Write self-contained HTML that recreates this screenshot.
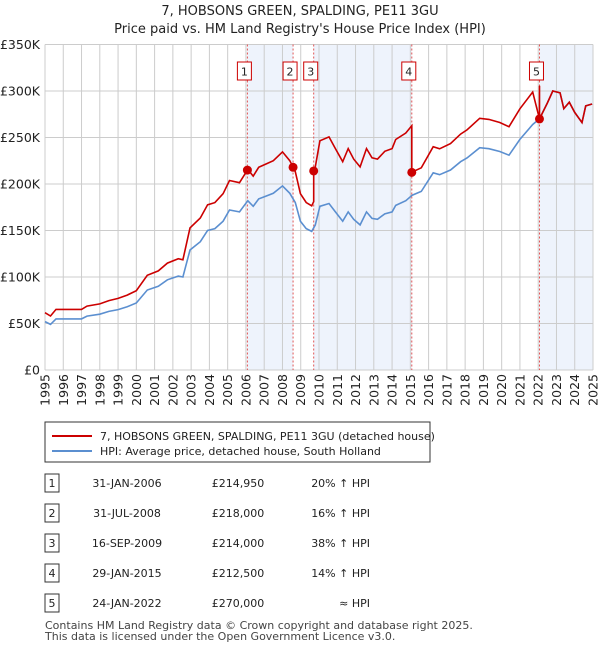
<!DOCTYPE html>
<html><head><meta charset="utf-8">
<style>
body{margin:0;background:#fff;font-family:"Liberation Sans","DejaVu Sans",sans-serif;}
svg text{font-family:"DejaVu Sans","Liberation Sans",sans-serif;}
</style></head>
<body>
<svg id="chart" width="600" height="650" xmlns="http://www.w3.org/2000/svg">
<text x="300" y="15" font-size="13" text-anchor="middle" fill="#222">7, HOBSONS GREEN, SPALDING, PE11 3GU</text>
<text x="300" y="33" font-size="13" text-anchor="middle" fill="#222">Price paid vs. HM Land Registry's House Price Index (HPI)</text>
<g id="plot"></g>
<g>
<rect x="45" y="422" width="385" height="40" fill="#fff" stroke="#333" stroke-width="1"/>
<line x1="52" y1="436" x2="92" y2="436" stroke="#cc0000" stroke-width="2"/>
<text x="100" y="440" font-size="11" fill="#222">7, HOBSONS GREEN, SPALDING, PE11 3GU (detached house)</text>
<line x1="52" y1="451" x2="92" y2="451" stroke="#5b8fd0" stroke-width="2"/>
<text x="100" y="455" font-size="11" fill="#222">HPI: Average price, detached house, South Holland</text>
</g>
<g id="table"></g>
<text x="45" y="629" font-size="11" fill="#444">Contains HM Land Registry data © Crown copyright and database right 2025.</text>
<text x="45" y="640" font-size="11" fill="#444">This data is licensed under the Open Government Licence v3.0.</text>
</svg>
<script>
const hpiYears=[1995,1995.3,1995.6,1996,1996.5,1997,1997.3,1998,1998.5,1999,1999.5,2000,2000.6,2001.2,2001.7,2002.3,2002.55,2002.94,2003.5,2003.9,2004.3,2004.75,2005.1,2005.65,2006.1,2006.4,2006.7,2007.1,2007.5,2008.0,2008.4,2008.7,2008.98,2009.3,2009.6,2009.8,2010.05,2010.55,2010.9,2011.3,2011.6,2011.9,2012.25,2012.6,2012.9,2013.2,2013.6,2014.0,2014.2,2014.75,2015.1,2015.6,2016.25,2016.6,2017.2,2017.75,2018.1,2018.8,2019.3,2019.9,2020.4,2021.0,2021.7,2022.07,2022.5,2022.8,2023.2,2023.4,2023.7,2024.0,2024.4,2024.6,2024.95];
const hpiValues=[52,49,55,55,55,55,58,60,63,65,68,72,86,90,97,101,100,129,138,150,152,160,172,170,182,176,184,187,190,198,190,180,160,152,149,156,176,179,170,160,170,162,156,170,163,162,168,170,177,182,188,192,212,210,215,224,228,239,238,235,231,248,264,270,287,300,298,281,288,277,266,284,286];
const saleDates=[2006.08,2008.58,2009.71,2015.08,2022.07];
const salePrices=[214950,218000,214000,212500,270000];
const saleLabels=["31-JAN-2006","31-JUL-2008","16-SEP-2009","29-JAN-2015","24-JAN-2022"];
const salePriceText=["£214,950","£218,000","£214,000","£212,500","£270,000"];
const saleHpiText=["20% ↑ HPI","16% ↑ HPI","38% ↑ HPI","14% ↑ HPI","≈ HPI"];
const yTicks=[0,50,100,150,200,250,300,350];
const yTickLabels=["£0","£50K","£100K","£150K","£200K","£250K","£300K","£350K"];
const xTicks=[1995,1996,1997,1998,1999,2000,2001,2002,2003,2004,2005,2006,2007,2008,2009,2010,2011,2012,2013,2014,2015,2016,2017,2018,2019,2020,2021,2022,2023,2024,2025];

const NS="http://www.w3.org/2000/svg";
const X0=45,X1=593,Y0=370,Y1=44.5;
const xs=t=>X0+(t-1995)/30*(X1-X0);
const ys=v=>Y0-v/350*(Y0-Y1);
const plot=document.getElementById('plot');
function mk(tag,attrs,parent){const e=document.createElementNS(NS,tag);for(const k in attrs)e.setAttribute(k,attrs[k]);(parent||plot).appendChild(e);return e;}
function hpiAt(t){for(let i=1;i<hpiYears.length;i++){if(t<=hpiYears[i]){const f=(t-hpiYears[i-1])/(hpiYears[i]-hpiYears[i-1]);return hpiValues[i-1]+f*(hpiValues[i]-hpiValues[i-1]);}}return hpiValues[hpiValues.length-1];}

// shaded bands
const bands=[[saleDates[0],saleDates[1]],[saleDates[2],saleDates[3]],[saleDates[4],2025]];
bands.forEach(b=>{const r=mk('rect',{x:xs(b[0]),y:Y1,width:xs(b[1])-xs(b[0]),height:Y0-Y1,fill:'#eef3fc'});

});
// grid
xTicks.forEach(t=>{const l=mk('line',{x1:xs(t),x2:xs(t),y1:Y1,y2:Y0,stroke:'#cccccc','stroke-width':1});


const tx=mk('text',{x:0,y:0,'font-size':12.5,fill:'#222','text-anchor':'end',transform:`translate(${xs(t)+4.5},${Y0+4}) rotate(-90)`});
tx.textContent=t;

});
yTicks.forEach((v,i)=>{const l=mk('line',{x1:X0,x2:X1,y1:ys(v),y2:ys(v),stroke:'#cccccc','stroke-width':1});


const tx=mk('text',{x:40,y:ys(v)+4.5,'font-size':12.5,fill:'#222','text-anchor':'end'});
tx.textContent=yTickLabels[i];

});
// sale lines
saleDates.forEach((d,i)=>{const l=mk('line',{x1:xs(d),x2:xs(d),y1:Y1,y2:Y0,stroke:'#e05555','stroke-width':1,'stroke-dasharray':'2,2'});


const r=mk('rect',{x:xs(d)-10,y:62,width:14,height:18,fill:'#fff',stroke:'#cc0000','stroke-width':1});


const tx=mk('text',{x:xs(d)-3,y:75.5,'font-size':11,fill:'#222','text-anchor':'middle'});
tx.textContent=i+1;

});
// hpi line
const hp=hpiYears.map((t,i)=>xs(t).toFixed(1)+','+ys(hpiValues[i]).toFixed(1)).join(' ');
const hl=mk('polyline',{points:hp,fill:'none',stroke:'#5b8fd0','stroke-width':1.6});


// red line
const ratios=saleDates.map((d,i)=>salePrices[i]/1000/hpiAt(d));
let pts=[];
function ratioAt(t){let r=ratios[0];saleDates.forEach((d,i)=>{if(t>=d)r=ratios[i];});return r;}
let events=hpiYears.map(t=>({t,type:'h'})).concat(saleDates.map((d,i)=>({t:d,type:'s',i})));
events.sort((a,b)=>a.t-b.t);
events.forEach(e=>{if(e.type==='h'){pts.push([e.t,hpiAt(e.t)*ratioAt(e.t)]);}else{const h=hpiAt(e.t);const prev=e.i===0?ratios[0]:ratios[e.i-1];pts.push([e.t,h*prev]);pts.push([e.t,salePrices[e.i]/1000]);}});
const rl=mk('polyline',{points:pts.map(p=>xs(p[0]).toFixed(1)+','+ys(p[1]).toFixed(1)).join(' '),fill:'none',stroke:'#cc0000','stroke-width':1.6});


saleDates.forEach((d,i)=>{const c=mk('circle',{cx:xs(d),cy:ys(salePrices[i]/1000),r:4.5,fill:'#cc0000'});

});
// table
const tb=document.getElementById('table');
saleDates.forEach((d,i)=>{const y=483+i*30;
const r=mk('rect',{x:45,y:y-9,width:14,height:18,fill:'#fff',stroke:'#333','stroke-width':1},tb);


const cols=[[52,i+1,'middle'],[127,saleLabels[i],'middle'],[238,salePriceText[i],'middle'],[370,saleHpiText[i],'end']];
cols.forEach(c=>{const tx=mk('text',{x:c[0],y:y+4,'font-size':11,fill:'#222','text-anchor':c[2]},tb);tx.textContent=c[1];

});});
</script>
</body></html>
